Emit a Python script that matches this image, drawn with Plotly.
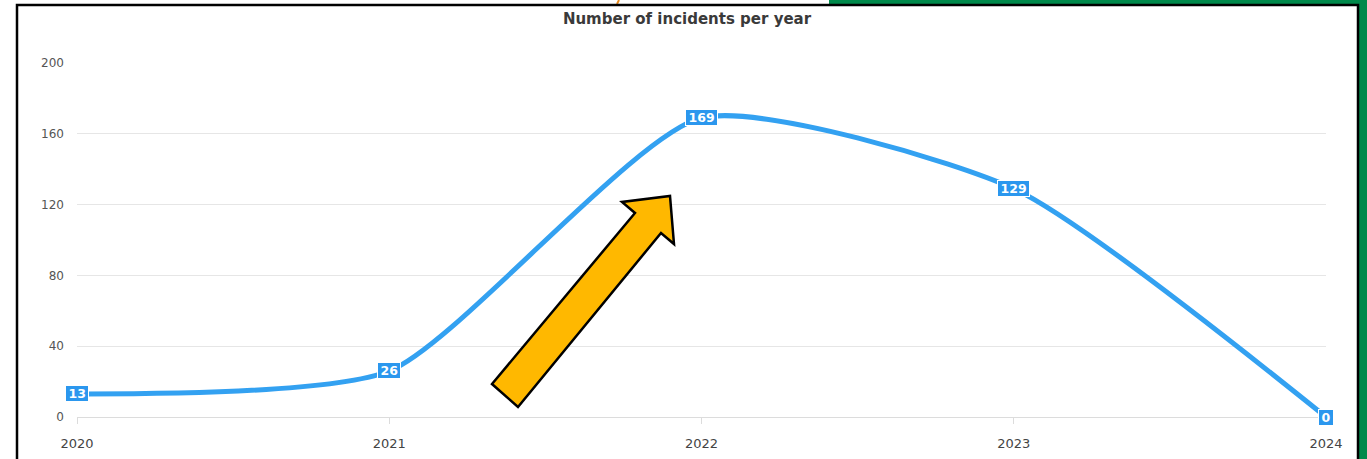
import plotly.graph_objects as go

years = [2020, 2021, 2022, 2023, 2024]
incidents = [13, 26, 169, 129, 0]
y_ticks = [0, 40, 80, 120, 160, 200]
title_text = "Number of incidents per year"

W, H = 1367, 459
ML, MR, MT, MB = 77, 41, 63, 42
PW = W - ML - MR
PH = H - MT - MB


def px(x):
    return (x - ML) / PW


def py(y):
    return (H - MB - y) / PH


LINE = "#33a1f1"
LABEL_BG = "#2b97ee"
FONT = "DejaVu Sans, Liberation Sans, Arial, sans-serif"

fig = go.Figure()
fig.add_trace(go.Scatter(
    x=years, y=incidents, mode="lines",
    line=dict(color=LINE, width=5, shape="spline", smoothing=0.6),
    hoverinfo="skip", cliponaxis=False,
))

annotations = []
for xv, yv in zip(years, incidents):
    annotations.append(dict(
        x=xv, y=yv, xref="x", yref="y", text=f"<b>&#8201;{yv}&#8201;</b>", showarrow=False,
        font=dict(color="white", size=12.5, family=FONT),
        bgcolor=LABEL_BG, bordercolor="white", borderwidth=1, borderpad=0,
        xanchor="center", yanchor="middle",
    ))

shapes = []
# outer decorations
shapes.append(dict(type="rect", xref="paper", yref="paper",
                   x0=px(829), x1=px(1367), y0=py(0), y1=py(5),
                   fillcolor="#00894b", line=dict(width=0), layer="above"))
shapes.append(dict(type="rect", xref="paper", yref="paper",
                   x0=px(1359), x1=px(1367), y0=py(0), y1=py(459),
                   fillcolor="#00894b", line=dict(width=0), layer="above"))
shapes.append(dict(type="line", xref="paper", yref="paper",
                   x0=px(619), x1=px(617), y0=py(0), y1=py(4),
                   line=dict(color="#e8891a", width=2), layer="above"))
# frame
shapes.append(dict(type="rect", xref="paper", yref="paper",
                   x0=px(17), x1=px(1358), y0=py(5), y1=py(475),
                   fillcolor="rgba(0,0,0,0)", line=dict(color="black", width=2.5),
                   layer="above"))
# arrow
arrow_pts = [(492, 384), (635, 213), (622, 202), (670, 196), (674, 244), (661, 233), (518, 407)]
path = "M " + " L ".join(f"{px(a):.5f},{py(b):.5f}" for a, b in arrow_pts) + " Z"
shapes.append(dict(type="path", xref="paper", yref="paper", path=path,
                   fillcolor="#ffb800", line=dict(color="black", width=2.5),
                   layer="above"))

fig.update_layout(
    width=W, height=H,
    margin=dict(l=ML, r=MR, t=MT, b=MB),
    paper_bgcolor="white", plot_bgcolor="white",
    showlegend=False,
    font=dict(family=FONT, color="#666666", size=12),
    title=dict(text=f"<b>{title_text}</b>", x=687 / W, xanchor="center",
               y=1 - 19 / H, yanchor="middle", yref="container",
               font=dict(size=15, color="#3a3a3a", family=FONT),
               automargin=False),
    xaxis=dict(range=[years[0], years[-1]], tickvals=years,
               ticktext=[str(v) for v in years],
               showgrid=False, zeroline=False, automargin=False,
               showline=True, linecolor="#dcdcdc", linewidth=1,
               ticks="outside", ticklen=6, tickcolor="#dcdcdc",
               ticklabelstandoff=8,
               tickfont=dict(size=13, color="#444444")),
    yaxis=dict(range=[0, 200], tickvals=y_ticks, automargin=False,
               showgrid=True, gridcolor="#e6e6e6", gridwidth=1,
               zeroline=False, showline=False, ticks="",
               ticklabelstandoff=12,
               tickfont=dict(size=12, color="#555555")),
    shapes=shapes,
    annotations=annotations,
)

fig.write_html("out.html")
